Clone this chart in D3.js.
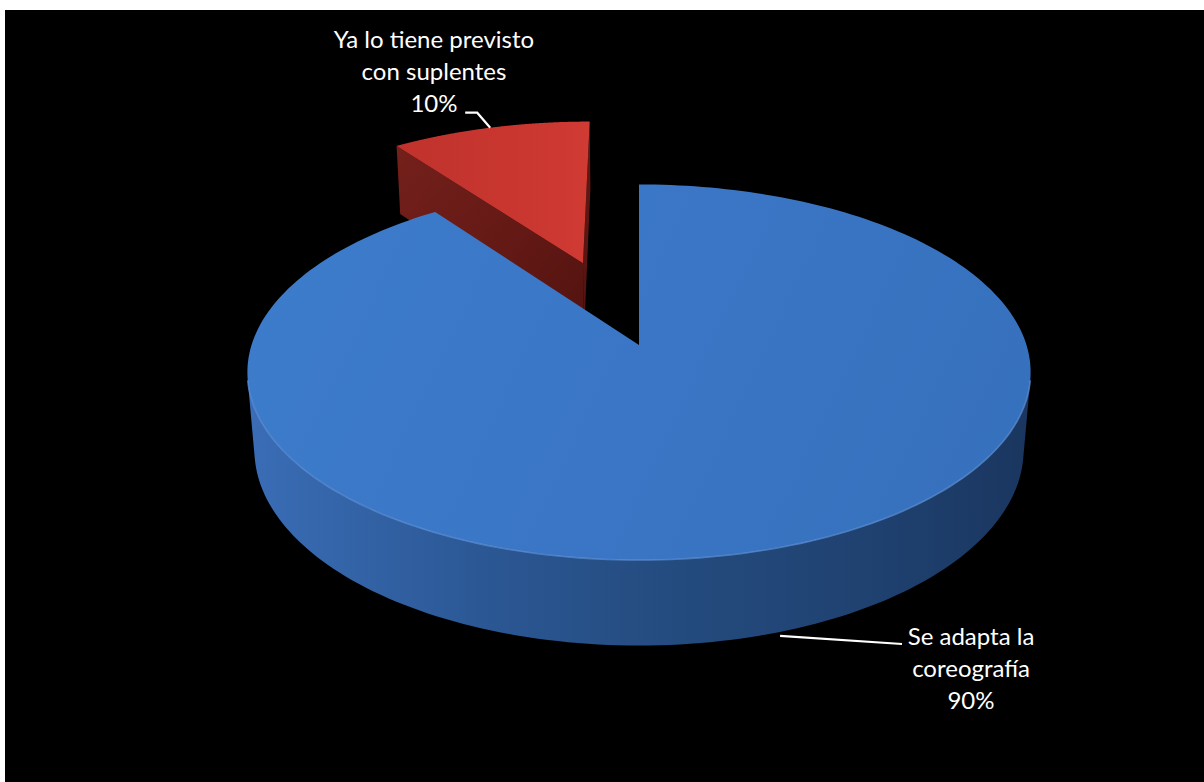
<!DOCTYPE html>
<html>
<head>
<meta charset="utf-8">
<script src="https://cdn.jsdelivr.net/npm/d3@7"></script>
<style>
  html, body { margin: 0; padding: 0; background: #ffffff; }
  svg { display: block; }
</style>
</head>
<body>
<svg id="chart" width="1204" height="782"></svg>
<script>
// ---- data ----
const categories = ["Ya lo tiene previsto con suplentes", "Se adapta la coreografía"];
const values = [10, 90];
const percentLabels = ["10%", "90%"];
const labelLines = [
  ["Ya lo tiene previsto", "con suplentes"],
  ["Se adapta la", "coreografía"]
];

// ---- styling ----
const W = 1204, H = 782;
const svg = d3.select("#chart");
const FONT = "Lato, 'Open Sans', 'Noto Sans', sans-serif";

svg.append("rect")
  .attr("x", 5).attr("y", 10)
  .attr("width", W - 5).attr("height", H - 10)
  .attr("fill", "#000");

const defs = svg.append("defs");
function linGrad(id, x1, y1, x2, y2, stops) {
  const g = defs.append("linearGradient").attr("id", id)
    .attr("gradientUnits", "userSpaceOnUse")
    .attr("x1", x1).attr("y1", y1).attr("x2", x2).attr("y2", y2);
  stops.forEach(([o, c]) => g.append("stop").attr("offset", o).attr("stop-color", c));
  return `url(#${id})`;
}

const sliceStyle = [
  {
    top: linGrad("redTop", 390, 130, 590, 130, [[0, "#c0322d"], [0.6, "#c8362f"], [1, "#d03b34"]]),
    cut: linGrad("redCut", 395, 150, 585, 300, [[0, "#74201b"], [0.6, "#641915"], [1, "#551411"]]),
    wall: "#5a1512",
    rim: null
  },
  {
    top: linGrad("blueTop", 250, 190, 1030, 560, [[0, "#3d7ccc"], [0.5, "#3a76c5"], [1, "#3670bc"]]),
    cut: "#24508a",
    wall: linGrad("blueWall", 250, 0, 1032, 0, [[0, "#3a6db6"], [0.3, "#2b5794"], [0.55, "#244b7e"], [0.8, "#1f4170"], [1, "#1a365f"]]),
    rim: "#5f93d8"
  }
];

// ---- 3D camera: disc of radius 1 in the XY plane, thickness below Z=0 ----
const cam = { cx: 639, cy: 345, F: 2350, D: 6.065, tilt: Math.asin(0.4745) };
const sinT = Math.sin(cam.tilt), cosT = Math.cos(cam.tilt);
const thickness = 0.23;
const explode = [0.5, 0];
const camPos = [0, -cam.D * cosT, cam.D * sinT];

function project(X, Y, Z) {
  const depth = cam.D + Y * cosT - Z * sinT;
  const up = Y * sinT + Z * cosT;
  return [cam.cx + cam.F * X / depth, cam.cy - cam.F * up / depth];
}

// d3.pie angles: clockwise from 12 o'clock; X = sin(a), Y = cos(a) (Y points away)
const total = d3.sum(values);
const start = -2 * Math.PI * values[0] / total;
const pie = d3.pie().sort(null).startAngle(start).endAngle(start + 2 * Math.PI);
const arcs = pie(values);

const line = d3.line();
function arcPts(off, a0, a1, Z, n) {
  const pts = [];
  for (let i = 0; i <= n; i++) {
    const a = a0 + (a1 - a0) * i / n;
    pts.push(project(off[0] + Math.sin(a), off[1] + Math.cos(a), Z));
  }
  return pts;
}
function facing(normal, point) {
  const v = [camPos[0] - point[0], camPos[1] - point[1], camPos[2] - point[2]];
  return normal[0] * v[0] + normal[1] * v[1] + normal[2] * v[2] > 0;
}

// visible part of the outer wall (angles whose outward normal faces the camera)
const wallA0 = Math.acos(-1 / (cam.D * cosT));
const wallA1 = 2 * Math.PI - wallA0;

const g = svg.append("g");

arcs.forEach((d, i) => {
  const mid = (d.startAngle + d.endAngle) / 2;
  const off = [explode[i] * Math.sin(mid), explode[i] * Math.cos(mid)];
  const st = sliceStyle[i];
  const sg = g.append("g").attr("class", "slice");

  // radial cut faces
  [[d.startAngle, -1], [d.endAngle, 1]].forEach(([a, sgn]) => {
    const normal = [sgn * Math.cos(a), -sgn * Math.sin(a), 0];
    const mp = [off[0] + 0.5 * Math.sin(a), off[1] + 0.5 * Math.cos(a), -thickness / 2];
    if (!facing(normal, mp)) return;
    const pts = [
      project(off[0], off[1], 0),
      project(off[0] + Math.sin(a), off[1] + Math.cos(a), 0),
      project(off[0] + Math.sin(a), off[1] + Math.cos(a), -thickness),
      project(off[0], off[1], -thickness)
    ];
    sg.append("path").attr("d", line(pts) + "Z").attr("fill", st.cut);
  });

  // outer wall
  let wa = Math.max(d.startAngle, wallA0), wb = Math.min(d.endAngle, wallA1);
  if (wb > wa) {
    const topArc = arcPts(off, wa, wb, 0, 120);
    const botArc = arcPts(off, wb, wa, -thickness, 120);
    sg.append("path").attr("d", line(topArc.concat(botArc)) + "Z").attr("fill", st.wall);
  }

  // top face
  const topPts = [project(off[0], off[1], 0)].concat(arcPts(off, d.startAngle, d.endAngle, 0, 240));
  sg.append("path").attr("d", line(topPts) + "Z").attr("fill", st.top);

  // soft highlight on the front rim
  if (st.rim && wb > wa) {
    sg.append("path")
      .attr("d", line(arcPts(off, wa, wb, 0, 120)))
      .attr("fill", "none").attr("stroke", st.rim)
      .attr("stroke-width", 1.6).attr("stroke-opacity", 0.7);
  }
  d.offset = off;
  d.mid = mid;
});

// ---- data labels with leader lines ----
const lab = svg.append("g")
  .attr("font-family", FONT).attr("font-size", 24)
  .attr("fill", "#ffffff").attr("text-anchor", "middle");

// small slice: label above, leader to the middle of its outer arc
{
  const d = arcs[0];
  const p = project(d.offset[0] + Math.sin(d.mid), d.offset[1] + Math.cos(d.mid), 0);
  const tx = 434, ty = 48;
  labelLines[0].concat([percentLabels[0]]).forEach((t, k) =>
    lab.append("text").attr("x", tx).attr("y", ty + k * 32).text(t));
  svg.append("path")
    .attr("d", line([[p[0] - 25, p[1] - 15], [p[0] - 13, p[1] - 15], p]))
    .attr("fill", "none").attr("stroke", "#fff").attr("stroke-width", 2.2);
}

// large slice: label lower right, leader from the bottom of its front wall
{
  const d = arcs[1];
  const p = project(d.offset[0] + Math.sin(d.mid), d.offset[1] + Math.cos(d.mid), -thickness);
  const tx = 971, ty = 645;
  labelLines[1].concat([percentLabels[1]]).forEach((t, k) =>
    lab.append("text").attr("x", tx).attr("y", ty + k * 32).text(t));
  svg.append("path")
    .attr("d", line([[p[0] + 5, p[1] + 3], [902, 644]]))
    .attr("fill", "none").attr("stroke", "#fff").attr("stroke-width", 2.2);
}
</script>
</body>
</html>
